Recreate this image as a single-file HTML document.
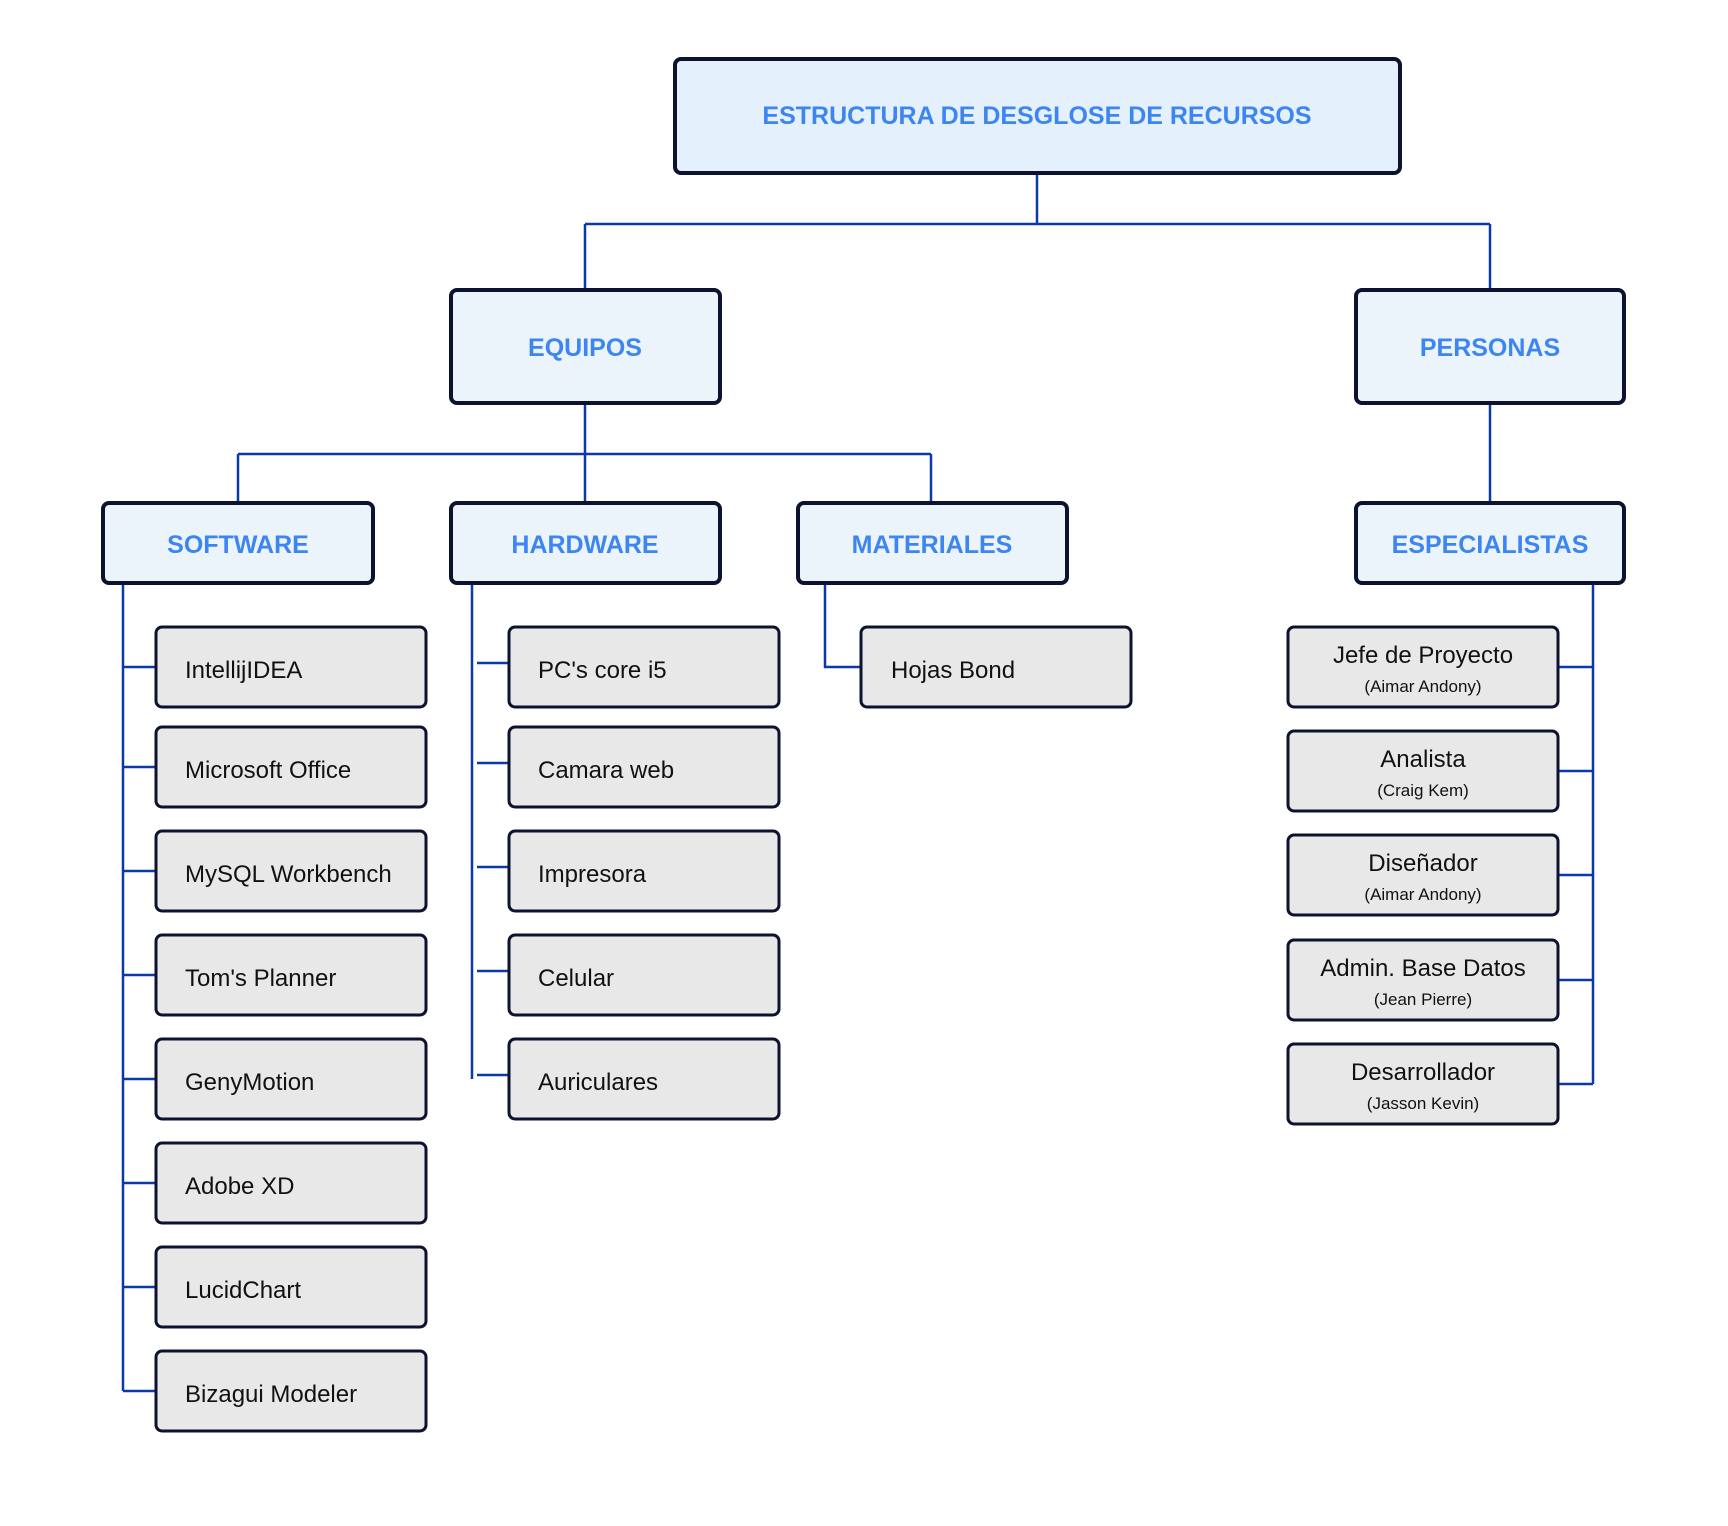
<!DOCTYPE html>
<html><head><meta charset="utf-8"><style>
html,body{margin:0;padding:0;background:#fff;}
svg{display:block;}
text{font-family:"Liberation Sans","DejaVu Sans",sans-serif;}
.h{fill:#3d85f0;font-weight:bold;font-size:25px;text-anchor:middle;}
.l{fill:#111;font-size:24px;}
.m{fill:#111;font-size:24px;text-anchor:middle;}
.s{fill:#111;font-size:17px;text-anchor:middle;}
.hb{fill:#ebf3fb;stroke:#0c1230;stroke-width:4;}
.lb{fill:#e8e8e8;stroke:#0c1230;stroke-width:3;}
.c{stroke:#0b3aa8;stroke-width:2.5;fill:none;}
</style></head><body>
<svg width="1728" height="1526" viewBox="0 0 1728 1526" xmlns="http://www.w3.org/2000/svg">
<path class="c" d="M1037 174V224M585 224H1490M585 224V288M1490 224V288"/>
<path class="c" d="M585 404V502M238 454H931M238 454V502M931 454V502M1490 404V502"/>
<path class="c" d="M123 584V1391M472 584V1079M825 584V667H860M1593 584V1084"/>
<g class="c">
<path d="M123 667H155M123 767H155M123 871H155M123 975H155M123 1079H155M123 1183H155M123 1287H155M123 1391H155"/>
<path d="M477 663H508M477 763H508M477 867H508M477 971H508M477 1075H508"/>
<path d="M1559 667H1593M1559 771H1593M1559 875H1593M1559 980H1593M1559 1084H1593"/>
</g>
<rect class="hb" x="675" y="59" width="725" height="114" rx="6" style="fill:#e4f1fd"/>
<text class="h" x="1037" y="124">ESTRUCTURA DE DESGLOSE DE RECURSOS</text>
<rect class="hb" x="451" y="290" width="269" height="113" rx="6"/>
<text class="h" x="585" y="356">EQUIPOS</text>
<rect class="hb" x="1356" y="290" width="268" height="113" rx="6"/>
<text class="h" x="1490" y="356">PERSONAS</text>
<rect class="hb" x="103" y="503" width="270" height="80" rx="6"/>
<text class="h" x="238" y="553">SOFTWARE</text>
<rect class="hb" x="451" y="503" width="269" height="80" rx="6"/>
<text class="h" x="585" y="553">HARDWARE</text>
<rect class="hb" x="798" y="503" width="269" height="80" rx="6"/>
<text class="h" x="932" y="553">MATERIALES</text>
<rect class="hb" x="1356" y="503" width="268" height="80" rx="6"/>
<text class="h" x="1490" y="553">ESPECIALISTAS</text>
<g>
<rect class="lb" x="156" y="627" width="270" height="80" rx="6"/><text class="l" x="185" y="678">IntellijIDEA</text>
<rect class="lb" x="156" y="727" width="270" height="80" rx="6"/><text class="l" x="185" y="778">Microsoft Office</text>
<rect class="lb" x="156" y="831" width="270" height="80" rx="6"/><text class="l" x="185" y="882">MySQL Workbench</text>
<rect class="lb" x="156" y="935" width="270" height="80" rx="6"/><text class="l" x="185" y="986">Tom's Planner</text>
<rect class="lb" x="156" y="1039" width="270" height="80" rx="6"/><text class="l" x="185" y="1090">GenyMotion</text>
<rect class="lb" x="156" y="1143" width="270" height="80" rx="6"/><text class="l" x="185" y="1194">Adobe XD</text>
<rect class="lb" x="156" y="1247" width="270" height="80" rx="6"/><text class="l" x="185" y="1298">LucidChart</text>
<rect class="lb" x="156" y="1351" width="270" height="80" rx="6"/><text class="l" x="185" y="1402">Bizagui Modeler</text>
</g>
<g>
<rect class="lb" x="509" y="627" width="270" height="80" rx="6"/><text class="l" x="538" y="678">PC's core i5</text>
<rect class="lb" x="509" y="727" width="270" height="80" rx="6"/><text class="l" x="538" y="778">Camara web</text>
<rect class="lb" x="509" y="831" width="270" height="80" rx="6"/><text class="l" x="538" y="882">Impresora</text>
<rect class="lb" x="509" y="935" width="270" height="80" rx="6"/><text class="l" x="538" y="986">Celular</text>
<rect class="lb" x="509" y="1039" width="270" height="80" rx="6"/><text class="l" x="538" y="1090">Auriculares</text>
</g>
<rect class="lb" x="861" y="627" width="270" height="80" rx="6"/><text class="l" x="891" y="678">Hojas Bond</text>
<g>
<rect class="lb" x="1288" y="627" width="270" height="80" rx="6"/><text class="m" x="1423" y="663">Jefe de Proyecto</text><text class="s" x="1423" y="692">(Aimar Andony)</text>
<rect class="lb" x="1288" y="731" width="270" height="80" rx="6"/><text class="m" x="1423" y="767">Analista</text><text class="s" x="1423" y="796">(Craig Kem)</text>
<rect class="lb" x="1288" y="835" width="270" height="80" rx="6"/><text class="m" x="1423" y="871">Diseñador</text><text class="s" x="1423" y="900">(Aimar Andony)</text>
<rect class="lb" x="1288" y="940" width="270" height="80" rx="6"/><text class="m" x="1423" y="976">Admin. Base Datos</text><text class="s" x="1423" y="1005">(Jean Pierre)</text>
<rect class="lb" x="1288" y="1044" width="270" height="80" rx="6"/><text class="m" x="1423" y="1080">Desarrollador</text><text class="s" x="1423" y="1109">(Jasson Kevin)</text>
</g>
</svg>
</body></html>
